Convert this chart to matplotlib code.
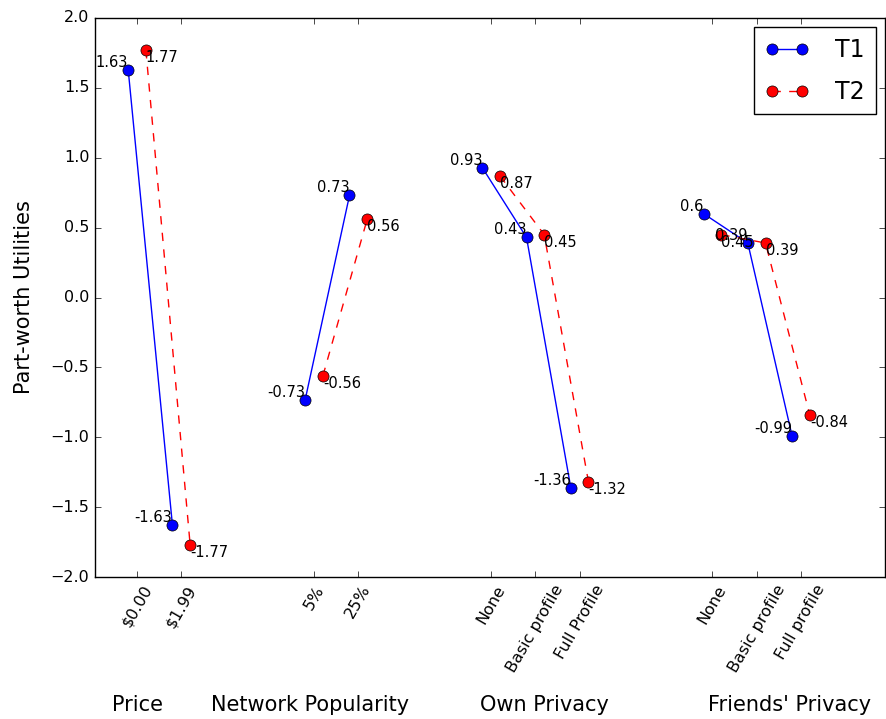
import numpy as np
import matplotlib
matplotlib.use('Agg')
import matplotlib.pyplot as plt

plt.style.use('classic')

# tick positions of the levels, grouped by attribute
price_x = [0, 1]
network_x = [4, 5]
own_x = [8, 9, 10]
friends_x = [13, 14, 15]

price_lbl = ['$0.00', '$1.99']
network_lbl = ['5%', '25%']
own_lbl = ['None', 'Basic profile', 'Full Profile']
friends_lbl = ['None', 'Basic profile', 'Full profile']

t1_price = [1.63, -1.63]
t1_network = [-0.73, 0.73]
t1_own = [0.93, 0.43, -1.36]
t1_friends = [0.6, 0.39, -0.99]

t2_price = [1.77, -1.77]
t2_network = [-0.56, 0.56]
t2_own = [0.87, 0.45, -1.32]
t2_friends = [0.45, 0.39, -0.84]

group_names = ['Price', 'Network Popularity', 'Own Privacy', "Friends' Privacy"]
group_pos = [0.0, 3.9, 9.2, 14.75]

xs = [price_x, network_x, own_x, friends_x]
t1 = [t1_price, t1_network, t1_own, t1_friends]
t2 = [t2_price, t2_network, t2_own, t2_friends]

fig = plt.figure(figsize=(8.87, 7.19), dpi=100, facecolor='white')
ax = fig.add_axes([95 / 887, 1 - 577 / 719, 790 / 887, 559 / 719])

off = 0.2
for i in range(len(xs)):
    x = np.array(xs[i])
    l1, = ax.plot(x - off, t1[i], 'b-', marker='o', markersize=8,
                  markeredgecolor='k', markeredgewidth=0.5)
    l2, = ax.plot(x + off, t2[i], 'r--', marker='o', markersize=8,
                  markeredgecolor='k', markeredgewidth=0.5)
    for xx, v in zip(x - off, t1[i]):
        ax.text(xx, v, str(v), ha='right', va='bottom', fontsize=10.5)
    for xx, v in zip(x + off, t2[i]):
        ax.text(xx, v, str(v), ha='left', va='top', fontsize=10.5)

ax.set_xlim(-0.95, 16.9)
ax.set_ylim(-2.0, 2.0)
ax.set_ylabel('Part-worth Utilities', fontsize=15, labelpad=12)

ticks = price_x + network_x + own_x + friends_x
labels = price_lbl + network_lbl + own_lbl + friends_lbl
ax.set_xticks(ticks)
ax.set_xticklabels(labels, rotation=60, ha='center', fontsize=11.5)
ax.tick_params(axis='y', labelsize=11.5)

for name, p in zip(group_names, group_pos):
    ax.text(p, -0.229, name, transform=ax.get_xaxis_transform(),
            ha='center', va='center', fontsize=15)

ax.legend([l1, l2], ['T1', 'T2'], loc='upper right', numpoints=2, fontsize=17,
          labelspacing=0.75, handlelength=1.9, borderpad=0.45,
          handletextpad=1.1, borderaxespad=0.4)

fig.savefig('out.png', dpi=100, facecolor='white')
